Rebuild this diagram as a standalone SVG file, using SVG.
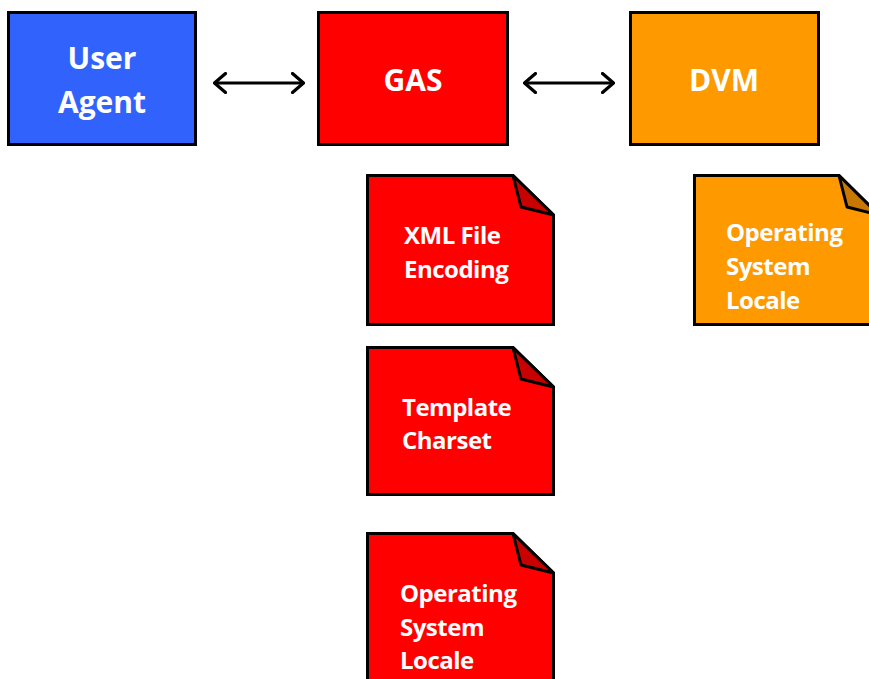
<svg xmlns="http://www.w3.org/2000/svg" width="869" height="679" viewBox="0 0 869 679">
  <defs>
    <marker id="arrowhead" viewBox="0 0 14 22" refX="13" refY="11" markerWidth="14" markerHeight="22" markerUnits="userSpaceOnUse" orient="auto-start-reverse">
      <path d="M1.5,1.5 L12.5,11 L1.5,20.5" fill="none" stroke="#000" stroke-width="3.2" stroke-linecap="round" stroke-linejoin="round"/>
    </marker>
  </defs>
  <style>
    .box { stroke: #000; stroke-width: 3; }
    .blue { fill: #3162fb; }
    .red { fill: #ff0000; }
    .orange { fill: #ff9900; }
    .fold-red { fill: #c80000; stroke: #000; stroke-width: 3; stroke-linejoin: round; }
    .fold-orange { fill: #c87800; stroke: #000; stroke-width: 3; stroke-linejoin: round; }
    .title { font-family: "Open Sans", "Liberation Sans", sans-serif; font-weight: bold; font-size: 30px; fill: #fff; text-anchor: middle; }
    .note { font-family: "Open Sans", "Liberation Sans", sans-serif; font-weight: bold; font-size: 24px; fill: #fff; letter-spacing: -0.5px; }
    .link { stroke: #000; stroke-width: 3.2; fill: none; }
  </style>

  <g id="connectors">
    <line class="link" x1="214" y1="83" x2="304" y2="83" marker-start="url(#arrowhead)" marker-end="url(#arrowhead)"/>
    <line class="link" x1="524" y1="83" x2="614" y2="83" marker-start="url(#arrowhead)" marker-end="url(#arrowhead)"/>
  </g>

  <g id="user-agent">
    <rect class="box blue" x="8.5" y="12.5" width="187" height="132"/>
    <text class="title" x="102" y="69">User</text>
    <text class="title" x="102" y="113">Agent</text>
  </g>

  <g id="gas">
    <rect class="box red" x="318.5" y="12.5" width="189" height="132"/>
    <text class="title" x="413" y="91">GAS</text>
  </g>

  <g id="dvm">
    <rect class="box orange" x="630.5" y="12.5" width="188" height="132"/>
    <text class="title" x="724" y="91">DVM</text>
  </g>

  <g id="xml-file-encoding">
    <path class="box red" d="M367.5,175.5 H513 L553.5,215 V324.5 H367.5 Z"/>
    <path class="fold-red" d="M513,175.5 L521,207 L553.5,215 Z"/>
    <text class="note" x="404" y="244">XML File</text>
    <text class="note" x="404" y="278">Encoding</text>
  </g>

  <g id="template-charset">
    <path class="box red" d="M367.5,347.5 H513 L553.5,387 V494.5 H367.5 Z"/>
    <path class="fold-red" d="M513,347.5 L521,379 L553.5,387 Z"/>
    <text class="note" x="402" y="416">Template</text>
    <text class="note" x="402" y="449">Charset</text>
  </g>

  <g id="gas-os-locale">
    <path class="box red" d="M367.5,533.5 H513 L553.5,573 V690 H367.5 Z"/>
    <path class="fold-red" d="M513,533.5 L521,565 L553.5,573 Z"/>
    <text class="note" x="400" y="602">Operating</text>
    <text class="note" x="400" y="636">System</text>
    <text class="note" x="400" y="669">Locale</text>
  </g>

  <g id="dvm-os-locale">
    <path class="box orange" d="M694.5,175.5 H839 L879,215 V324.5 H694.5 Z"/>
    <path class="fold-orange" d="M839,175.5 L847,207 L879,215 Z"/>
    <text class="note" x="726" y="241">Operating</text>
    <text class="note" x="726" y="275">System</text>
    <text class="note" x="726" y="309">Locale</text>
  </g>
</svg>
